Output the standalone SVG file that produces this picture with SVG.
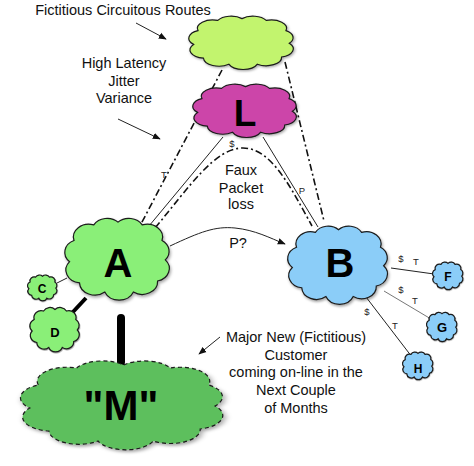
<svg xmlns="http://www.w3.org/2000/svg" xmlns:xlink="http://www.w3.org/1999/xlink" width="474" height="466" viewBox="0 0 474 466">
<style>
.cloud{stroke:#1a1a1a;stroke-width:1.2;vector-effect:non-scaling-stroke}
.lbl{font-family:"Liberation Sans",Arial,sans-serif;font-size:14.5px;fill:#111;text-anchor:middle}
.big{font-family:"Liberation Sans",Arial,sans-serif;font-weight:bold;fill:#000;text-anchor:middle}
.sm{font-family:"Liberation Sans",Arial,sans-serif;font-size:9.5px;fill:#222;text-anchor:middle}
.dd{fill:none;stroke:#111;stroke-width:1.6;stroke-dasharray:7 3 2 3}
.thin{fill:none;stroke:#222;stroke-width:1}
</style>
<defs>
<path id="cl" class="cloud" d="M10,31 A14,14 0 0 1 28,14 A14,14 0 0 1 50,11 A14,14 0 0 1 72,14 A14,14 0 0 1 90,31 A14,14 0 0 1 93,52 A14,14 0 0 1 86,75 A14,14 0 0 1 64,87 A14,14 0 0 1 38,87 A14,14 0 0 1 15,77 A14,14 0 0 1 6,54 A14,14 0 0 1 10,31 Z"/>
<filter id="sh" x="-10%" y="-10%" width="125%" height="130%">
<feDropShadow dx="1" dy="2" stdDeviation="1.5" flood-color="#000" flood-opacity="0.35"/>
</filter>
<marker id="ah" viewBox="0 0 10 10" refX="9" refY="5" markerWidth="8" markerHeight="8" orient="auto" markerUnits="userSpaceOnUse">
<path d="M0,1 L10,5 L0,9 Z" fill="#111"/>
</marker>
</defs>

<g id="connectors">
<line class="dd" x1="222" y1="70" x2="141" y2="224"/>
<line class="dd" x1="285" y1="62" x2="324" y2="221"/>
<line class="thin" x1="223" y1="137" x2="149" y2="226"/>
<line class="thin" x1="263" y1="137" x2="318" y2="227"/>
<path class="dd" d="M155,228 C190,186 215,148 243,148 C271,148 290,186 312,226"/>
<path class="thin" d="M170,246 C200,232 215,226 235,228 C255,230 270,238 285,244" marker-end="url(#ah)"/>
<line class="thin" x1="57" y1="283" x2="67" y2="278"/>
<line stroke="#000" stroke-width="4" x1="72" y1="313" x2="86" y2="298"/>
<line stroke="#000" stroke-width="8" stroke-linecap="round" x1="121" y1="318" x2="121" y2="362"/>
<line class="thin" x1="391" y1="268" x2="434" y2="274"/>
<line fill="none" stroke="#777" stroke-width="1" x1="384" y1="291" x2="431" y2="319"/>
<line class="thin" x1="366" y1="297" x2="412" y2="357"/>
<text class="sm" x="164" y="178">T</text>
<text class="sm" x="232" y="147">$</text>
<text class="sm" x="302" y="194">P</text>
<text class="lbl" x="238" y="248">P?</text>
<text class="sm" x="401" y="262">$</text>
<text class="sm" x="416" y="265">T</text>
<text class="sm" x="401" y="293">$</text>
<text class="sm" x="415" y="304">T</text>
<text class="sm" x="367" y="315">$</text>
<text class="sm" x="395" y="329">T</text>
</g>

<g id="routes">
<use href="#cl" transform="translate(187,12) scale(1.10,0.60)" fill="#c2f46e" filter="url(#sh)"/>
</g>
<g id="L">
<use href="#cl" transform="translate(191,80) scale(1.09,0.60)" fill="#cc45a9" filter="url(#sh)"/>
<text class="big" x="245" y="126" font-size="37">L</text>
</g>
<g id="A">
<use href="#cl" transform="translate(63,212) scale(1.10,0.92)" fill="#8aef78" filter="url(#sh)"/>
<text class="big" x="118" y="277" font-size="40">A</text>
</g>
<g id="B">
<use href="#cl" transform="translate(286,220) scale(1.05,0.88)" fill="#8bcdf8" filter="url(#sh)"/>
<text class="big" x="340" y="277" font-size="40">B</text>
</g>
<g id="C">
<use href="#cl" transform="translate(27,273) scale(0.31,0.29)" fill="#8aef78" filter="url(#sh)"/>
<text class="big" x="42" y="293" font-size="12">C</text>
</g>
<g id="D">
<use href="#cl" transform="translate(29,304) scale(0.52,0.50)" fill="#8aef78" filter="url(#sh)"/>
<text class="big" x="55" y="337" font-size="13">D</text>
</g>
<g id="F">
<use href="#cl" transform="translate(432,260) scale(0.32,0.31)" fill="#8bcdf8" filter="url(#sh)"/>
<text class="big" x="448" y="281" font-size="12">F</text>
</g>
<g id="G">
<use href="#cl" transform="translate(426,310) scale(0.32,0.33)" fill="#8bcdf8" filter="url(#sh)"/>
<text class="big" x="442" y="332" font-size="13">G</text>
</g>
<g id="H">
<use href="#cl" transform="translate(402,350) scale(0.32,0.31)" fill="#8bcdf8" filter="url(#sh)"/>
<text class="big" x="418" y="373" font-size="12">H</text>
</g>
<g id="M">
<use href="#cl" transform="translate(17,354) scale(2.13,1.0)" fill="#5dbf5d" stroke="#1f3a1f" stroke-dasharray="4 3" filter="url(#sh)"/>
<text class="big" x="121" y="420" font-size="42">"M"</text>
</g>

<g id="annotations">
<text class="lbl" x="123" y="15">Fictitious Circuitous Routes</text>
<line class="thin" x1="136" y1="23" x2="166" y2="39" marker-end="url(#ah)"/>
<text class="lbl" x="124" y="68">High Latency</text>
<text class="lbl" x="124" y="86">Jitter</text>
<text class="lbl" x="124" y="103">Variance</text>
<line class="thin" x1="118" y1="119" x2="160" y2="139" marker-end="url(#ah)"/>
<text class="lbl" x="241" y="175">Faux</text>
<text class="lbl" x="241" y="193">Packet</text>
<text class="lbl" x="241" y="209">loss</text>
<text class="lbl" x="296" y="342">Major New (Fictitious)</text>
<text class="lbl" x="296" y="360">Customer</text>
<text class="lbl" x="296" y="377">coming on-line in the</text>
<text class="lbl" x="296" y="395">Next Couple</text>
<text class="lbl" x="296" y="413">of Months</text>
<line class="thin" x1="220" y1="337" x2="199" y2="354" marker-end="url(#ah)"/>
</g>
</svg>
